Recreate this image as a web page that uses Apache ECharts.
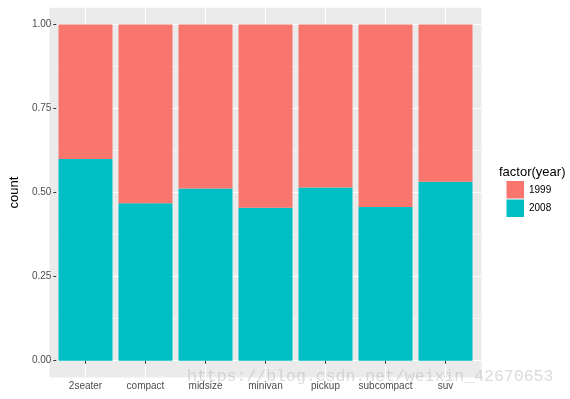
<!DOCTYPE html>
<html><head><meta charset="utf-8">
<script src="https://cdn.jsdelivr.net/npm/echarts@6/dist/echarts.min.js"></script>
<style>html,body{margin:0;padding:0;background:#fff}#c{width:570px;height:399px}</style>
</head><body><div id="c"></div>
<script>
const categories = ['2seater','compact','midsize','minivan','pickup','subcompact','suv'];
const share2008 = [0.6, 0.468, 0.512, 0.455, 0.515, 0.457, 0.532];
const share1999 = [0.4, 0.532, 0.488, 0.545, 0.485, 0.543, 0.468];
const yTicks = [0, 0.25, 0.5, 0.75, 1];
const legendTitle = 'factor(year)';
const yTitle = 'count';
const watermark = 'https://blog.csdn.net/weixin_42670653';

const FONT = 'Liberation Sans, Arial, sans-serif';
const PL = 49.5, U = 6, PT = 7.7, PH = 369.8;
const Y1 = 24.5, Y0 = 360.7;
const chart = echarts.init(document.getElementById('c'), null, {renderer: 'canvas'});
const hiddenAxis = (t, gi, extra) => Object.assign({type: t, gridIndex: gi, show: false}, extra || {});
chart.setOption({
  animation: false,
  backgroundColor: '#ffffff',
  title: {text: legendTitle, left: 499, top: 166, padding: 0, textStyle: {fontFamily: FONT, fontSize: 13, fontWeight: 'normal', color: '#000'}},
  legend: {
    data: ['1999', '2008'], orient: 'vertical', left: 506.5, top: 181, padding: 0,
    itemWidth: 17.5, itemHeight: 17.5, itemGap: 1, icon: 'rect',
    textStyle: {fontFamily: FONT, fontSize: 10, color: '#000'}
  },
  grid: [
    {left: PL, top: PT, width: 72 * U, height: PH, show: true, backgroundColor: '#EBEBEB', borderWidth: 0, z: -2},
    {left: PL - 4 * U, top: PT, width: 76 * U, height: PH, show: false},
    {left: PL, top: Y1, width: 72 * U, height: Y0 - Y1, show: false},
    {left: PL + 1 * U, top: Y1, width: 70 * U, height: Y0 - Y1, show: false}
  ],
  xAxis: [
    hiddenAxis('value', 0, {min: 0, max: 1}),
    {type: 'value', gridIndex: 1, min: -10, max: 66, interval: 10,
     axisLine: {show: false}, axisTick: {show: false}, axisLabel: {show: false},
     splitLine: {show: true, showMinLine: false, showMaxLine: false, lineStyle: {color: '#ffffff', width: 1.1}}},
    hiddenAxis('value', 2, {min: 0, max: 1}),
    {type: 'category', gridIndex: 3, data: categories, boundaryGap: true, offset: (PT + PH) - Y0,
     axisLine: {show: false},
     axisTick: {show: true, alignWithLabel: true, length: 3, lineStyle: {color: '#333333', width: 1}},
     axisLabel: {show: true, interval: 0, margin: 4, fontFamily: FONT, fontSize: 10, color: '#4D4D4D'},
     splitLine: {show: false}}
  ],
  yAxis: [
    hiddenAxis('value', 0, {min: 0, max: 1}),
    hiddenAxis('value', 1, {min: 0, max: 1}),
    {type: 'value', gridIndex: 2, min: 0, max: 1, interval: 0.25,
     name: yTitle, nameLocation: 'middle', nameRotate: 90, nameGap: 31,
     nameTextStyle: {fontFamily: FONT, fontSize: 13, color: '#000'},
     axisLine: {show: false},
     axisTick: {show: true, length: 3, lineStyle: {color: '#333333', width: 1}},
     axisLabel: {show: true, margin: 5, fontFamily: FONT, fontSize: 10, color: '#4D4D4D',
                 formatter: v => yTicks.includes(v) ? v.toFixed(2) : ''},
     splitLine: {show: true, lineStyle: {color: '#ffffff', width: 1.1}},
     minorTick: {show: false, splitNumber: 2},
     minorSplitLine: {show: true, lineStyle: {color: '#ffffff', width: 0.55}}},
    hiddenAxis('value', 3, {min: 0, max: 1})
  ],
  series: [
    {name: '2008', type: 'bar', stack: 'y', xAxisIndex: 3, yAxisIndex: 3, data: share2008,
     barCategoryGap: '10%', itemStyle: {color: '#00BFC4'}, z: 3},
    {name: '1999', type: 'bar', stack: 'y', xAxisIndex: 3, yAxisIndex: 3, data: share1999,
     barCategoryGap: '10%', itemStyle: {color: '#F8766D'}, z: 3}
  ],
  graphic: [
    {type: 'text', left: 187, top: 368, z: 100, silent: true,
     style: {text: watermark, fontFamily: 'Liberation Mono, DejaVu Sans Mono, monospace', fontSize: 16.5, fill: 'rgba(190,190,190,0.55)'}}
  ]
});
</script></body></html>
